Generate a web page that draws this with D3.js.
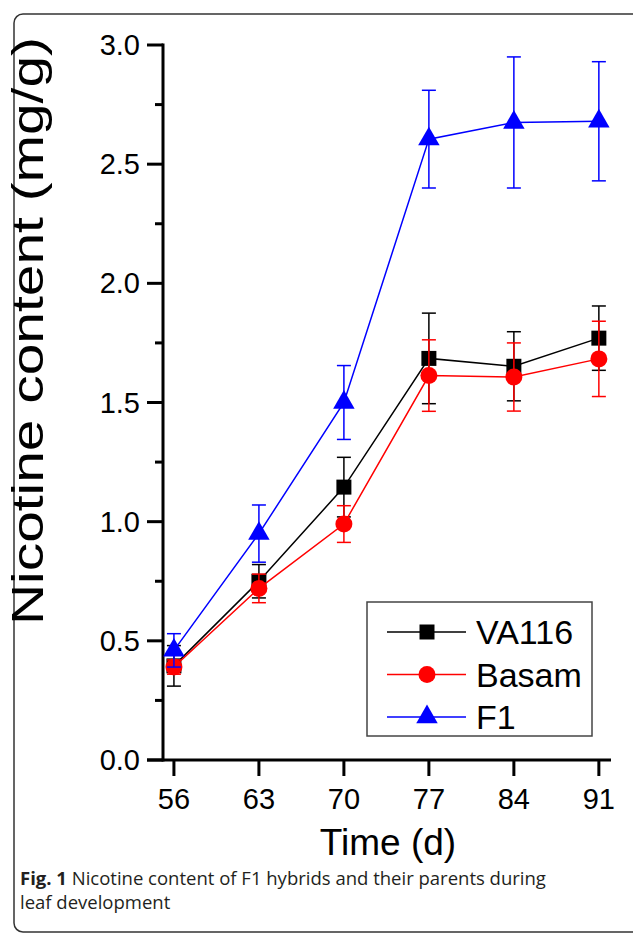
<!DOCTYPE html>
<html lang="en">
  <head>
    <meta charset="UTF-8" />
    <title>Nicotine content</title>
    <script src="https://d3js.org/d3.v7.min.js"></script>
    <style>
      body { margin: 0; background: #fff; }
      .chart-text { font-family: "Liberation Sans", Arial, sans-serif; }
      .caption { font-family: "Open Sans", sans-serif; fill: #231f20; }
    </style>
  </head>

  <body>
    <svg id="chart" width="633" height="934"></svg>
    <script>
      // values
      const days = [56, 63, 70, 77, 84, 91];
      const va116 = [0.395, 0.75, 1.145, 1.685, 1.652, 1.77];
      const va116Err = [0.085, 0.07, 0.125, 0.19, 0.145, 0.135];
      const basam = [0.39, 0.72, 0.99, 1.613, 1.607, 1.683];
      const basamErr = [0.03, 0.06, 0.077, 0.15, 0.143, 0.158];
      const f1 = [0.46, 0.95, 1.5, 2.605, 2.675, 2.68];
      const f1Err = [0.07, 0.12, 0.155, 0.205, 0.275, 0.25];
      const yTicks = [0, 0.5, 1, 1.5, 2, 2.5, 3];
      const yMinor = [0.25, 0.75, 1.25, 1.75, 2.25, 2.75];

      const series = [
        { name: "VA116", values: va116, err: va116Err, color: "#000000", shape: d3.symbolSquare, size: 225 },
        { name: "Basam", values: basam, err: basamErr, color: "#ff0000", shape: d3.symbolCircle, size: 227 },
        { name: "F1", values: f1, err: f1Err, color: "#0000ff", shape: d3.symbolTriangle, size: 200 },
      ];

      const svg = d3.select("#chart");

      // card border
      svg.append("rect")
        .attr("x", 14).attr("y", 14)
        .attr("width", 640).attr("height", 918)
        .attr("rx", 9)
        .attr("fill", "none")
        .attr("stroke", "#333")
        .attr("stroke-width", 1.5);

      const x = d3.scaleLinear().domain([55.1, 92]).range([163, 611]);
      const y = d3.scaleLinear().domain([0, 3]).range([760, 45]);

      // y axis
      const yAxis = svg.append("g").attr("class", "chart-text").attr("transform", "translate(163,0)");
      yAxis.append("line")
        .attr("x1", 0).attr("x2", 0)
        .attr("y1", y(0) + 1.5).attr("y2", y(3) - 1.5)
        .attr("stroke", "#000").attr("stroke-width", 3);
      yAxis.selectAll("line.major")
        .data(yTicks)
        .join("line")
        .attr("class", "major")
        .attr("x1", -16).attr("x2", 0)
        .attr("y1", (d) => y(d)).attr("y2", (d) => y(d))
        .attr("stroke", "#000").attr("stroke-width", 3);
      yAxis.selectAll("line.minor")
        .data(yMinor)
        .join("line")
        .attr("class", "minor")
        .attr("x1", -8).attr("x2", 0)
        .attr("y1", (d) => y(d)).attr("y2", (d) => y(d))
        .attr("stroke", "#000").attr("stroke-width", 3);
      yAxis.selectAll("text")
        .data(yTicks)
        .join("text")
        .attr("x", -23)
        .attr("y", (d) => y(d) + 10)
        .attr("text-anchor", "end")
        .attr("font-size", 29)
        .text((d) => d.toFixed(1));

      // x axis
      const xAxis = svg.append("g").attr("class", "chart-text").attr("transform", "translate(0,760)");
      xAxis.append("line")
        .attr("x1", 147).attr("x2", 611)
        .attr("y1", 0).attr("y2", 0)
        .attr("stroke", "#000").attr("stroke-width", 3);
      xAxis.selectAll("line.tick")
        .data(days)
        .join("line")
        .attr("class", "tick")
        .attr("x1", (d) => x(d)).attr("x2", (d) => x(d))
        .attr("y1", 0).attr("y2", 16)
        .attr("stroke", "#000").attr("stroke-width", 3);
      xAxis.selectAll("text")
        .data(days)
        .join("text")
        .attr("x", (d) => x(d))
        .attr("y", 49)
        .attr("text-anchor", "middle")
        .attr("font-size", 29)
        .text((d) => d);

      // axis titles
      svg.append("text")
        .attr("class", "chart-text")
        .attr("x", 388).attr("y", 855)
        .attr("text-anchor", "middle")
        .attr("font-size", 37)
        .text("Time (d)");
      svg.append("text")
        .attr("class", "chart-text")
        .attr("transform", "translate(43,331) rotate(-90)")
        .attr("text-anchor", "middle")
        .attr("font-size", 44)
        .attr("textLength", 588)
        .attr("lengthAdjust", "spacingAndGlyphs")
        .text("Nicotine content (mg/g)");

      const plot = svg.append("g");
      const line = d3.line()
        .x((d, i) => x(days[i]))
        .y((d) => y(d));

      series.forEach((s) => {
        const g = plot.append("g");
        g.append("path")
          .attr("d", line(s.values))
          .attr("fill", "none")
          .attr("stroke", s.color)
          .attr("stroke-width", 1.5);

        const bars = g.selectAll("g.err")
          .data(s.values)
          .join("g")
          .attr("class", "err")
          .attr("stroke", s.color)
          .attr("stroke-width", 1.5);
        bars.append("line")
          .attr("x1", (d, i) => x(days[i])).attr("x2", (d, i) => x(days[i]))
          .attr("y1", (d, i) => y(d + s.err[i])).attr("y2", (d, i) => y(d - s.err[i]));
        bars.append("line")
          .attr("x1", (d, i) => x(days[i]) - 7).attr("x2", (d, i) => x(days[i]) + 7)
          .attr("y1", (d, i) => y(d + s.err[i])).attr("y2", (d, i) => y(d + s.err[i]));
        bars.append("line")
          .attr("x1", (d, i) => x(days[i]) - 7).attr("x2", (d, i) => x(days[i]) + 7)
          .attr("y1", (d, i) => y(d - s.err[i])).attr("y2", (d, i) => y(d - s.err[i]));

        g.selectAll("path.mark")
          .data(s.values)
          .join("path")
          .attr("class", "mark")
          .attr("d", d3.symbol().type(s.shape).size(s.size))
          .attr("transform", (d, i) => "translate(" + x(days[i]) + "," + y(d) + ")")
          .attr("fill", s.color);
      });

      // legend
      const legend = svg.append("g").attr("class", "chart-text");
      legend.append("rect")
        .attr("x", 367).attr("y", 602)
        .attr("width", 225).attr("height", 134)
        .attr("fill", "#fff")
        .attr("stroke", "#444")
        .attr("stroke-width", 1.5);
      const rows = legend.selectAll("g.row")
        .data(series)
        .join("g")
        .attr("class", "row")
        .attr("transform", (d, i) => "translate(0," + (632 + i * 42.5) + ")");
      rows.append("line")
        .attr("x1", 387).attr("x2", 466)
        .attr("stroke", (d) => d.color)
        .attr("stroke-width", 1.5);
      rows.append("path")
        .attr("d", (d) => d3.symbol().type(d.shape).size(d.size)())
        .attr("transform", "translate(427,0)")
        .attr("fill", (d) => d.color);
      rows.append("text")
        .attr("x", 476).attr("y", 12)
        .attr("font-size", 34)
        .text((d) => d.name);

      // caption
      const cap = svg.append("text")
        .attr("class", "caption")
        .attr("x", 20).attr("y", 885)
        .attr("font-size", 18.5);
      cap.append("tspan").attr("font-weight", "bold").text("Fig. 1");
      cap.append("tspan").text(" Nicotine content of F1 hybrids and their parents during");
      svg.append("text")
        .attr("class", "caption")
        .attr("x", 20).attr("y", 909)
        .attr("font-size", 18.5)
        .text("leaf development");
    </script>
  </body>
</html>
